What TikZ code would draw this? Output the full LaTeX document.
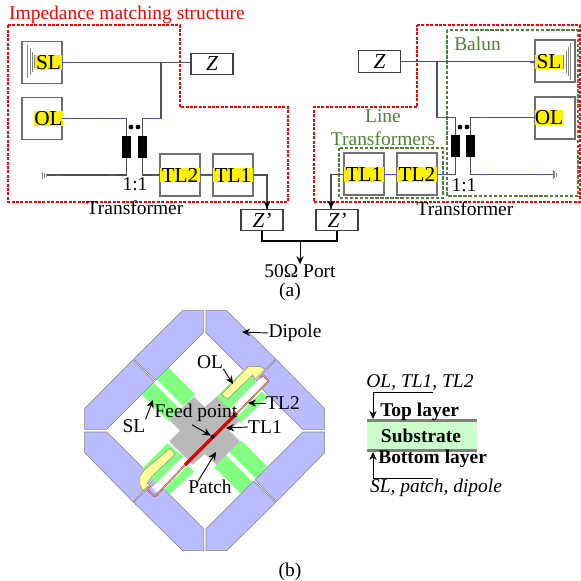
\documentclass[tikz,border=0pt]{standalone}
\usepackage{fontspec}
\setmainfont{Liberation Serif}
\usetikzlibrary{arrows.meta}
\definecolor{gline}{HTML}{4F8238}
\definecolor{wirec}{HTML}{505050}
\definecolor{dip}{HTML}{BBBBFF}
\definecolor{grn}{HTML}{80FF80}
\definecolor{yel}{HTML}{FFFF99}
\definecolor{pinkl}{HTML}{F09A9A}
\definecolor{boxc}{HTML}{707070}
\tikzset{
 lab/.style={font=\fontsize{14.6}{16}\selectfont,inner sep=0pt,text=black},
 grnlab/.style={lab,text=gline},
 redbox/.style={draw=red,line width=1.3pt,dash pattern=on 2.2pt off 1.1pt},
 grnbox/.style={draw=gline,line width=1.3pt,dash pattern=on 2.6pt off 1.2pt},
 outerbox/.style={draw=boxc,line width=.8pt,minimum width=30pt,minimum height=31.5pt,inner sep=0pt},
 ybox/.style={fill=yellow,inner sep=0pt,font=\fontsize{16}{16}\selectfont,minimum height=11pt},
 zbox/.style={draw=black!75,line width=.9pt,fill=white,minimum width=31.5pt,minimum height=16pt,inner sep=0pt,font=\fontsize{16}{16}\selectfont\itshape},
 coil/.style={fill=black,minimum width=6.4pt,minimum height=16.5pt,inner sep=0pt},
 wire/.style={draw=wirec,line width=.85pt},
 bluebit/.style={draw=blue!70!white,line width=.6pt},
 gnd/.style={draw=gray,line width=.7pt},
 arr/.style={draw=black,line width=.7pt,-{Stealth[length=6pt,width=5.5pt]}},
 dipole/.style={fill=dip,draw=gray,line width=.4pt},
 greenbar/.style={fill=grn,draw=none},
}
\begin{document}
\begin{tikzpicture}[x=.75pt,y=-.75pt]
\useasboundingbox[fill=white] (0,0) rectangle (581,581);
% ---- (a) boxes
\node[outerbox] (SLbL) at (42,62.5) {};
\node[ybox,minimum width=20pt] (SLL) at (48.5,62.5) {SL};
\node[outerbox] (OLbL) at (42,118.5) {};
\node[ybox,minimum width=20pt] (OLL) at (48.5,118.5) {OL};
\node[zbox] (ZL) at (212,64) {Z};
\node[outerbox] (TL2bL) at (180,175) {};
\node[ybox,minimum width=30pt] (TL2L) at (180,175) {TL2};
\node[outerbox] (TL1bL) at (233,175) {};
\node[ybox,minimum width=30pt] (TL1L) at (233,175) {TL1};
\node[coil] (c1L) at (126.5,147) {};
\node[coil] (c2L) at (142.5,147) {};
\node[circle,fill=black,inner sep=0pt,minimum size=3.6pt] (d1L) at (131,127) {};
\node[circle,fill=black,inner sep=0pt,minimum size=3.6pt] (d2L) at (138,127) {};
\node[zbox] (ZpL) at (262,220) {Z’};
\node[zbox] (ZpR) at (337,220) {Z’};
\node[zbox] (ZR) at (379.5,61.5) {Z};
\node[outerbox] (SLbR) at (555,61) {};
\node[ybox,minimum width=21pt] (SLR) at (549,62) {SL};
\node[outerbox] (OLbR) at (555,118) {};
\node[ybox,minimum width=21pt] (OLR) at (549,117.5) {OL};
\node[outerbox] (TL1bR) at (364,174) {};
\node[ybox,minimum width=30pt] (TL1R) at (364,174.5) {TL1};
\node[outerbox] (TL2bR) at (417,174) {};
\node[ybox,minimum width=30pt] (TL2R) at (417,174.5) {TL2};
\node[coil] (c1R) at (455.5,146) {};
\node[coil] (c2R) at (470.5,146) {};
\node[circle,fill=black,inner sep=0pt,minimum size=3.6pt] (d1R) at (460,127) {};
\node[circle,fill=black,inner sep=0pt,minimum size=3.6pt] (d2R) at (467,127) {};
\node[lab] (port) at (300,271) {50Ω Port};
% dashed
\draw[redbox] (8,25) -- (180,25) -- (180,107) -- (288,107) -- (288,202) -- (8,202) -- cycle;
\draw[redbox] (417,25) -- (580,25) -- (580,202) -- (314,202) -- (314,107) -- (417,107) -- cycle;
\draw[grnbox] (447,30) rectangle (578,196);
\draw[grnbox] (339,148) rectangle (443,198);
% wires left
\coordinate (j1L) at (161,62.5);
\coordinate (b1L) at (161,118.5);
\coordinate (g1L) at (46,175);
\draw[wire] (SLL.east) -- (ZL.west |- SLL.east);
\draw[wire] (j1L) -- (b1L) -| (c2L.north);
\draw[wire] (OLL.east) -| (c1L.north);
\draw[wire] (c1L.south) |- (g1L);
\draw[wire] (c2L.south) |- (TL2L.west);
\draw[wire] (TL2L.east) -- (TL1L.west);
\draw[wire] (TL1L.east) -| ([xshift=3.75pt]ZpL.north);
\draw[arr] ([xshift=3.75pt,yshift=6pt]ZpL.north) -- ([xshift=3.75pt]ZpL.north);
% wires right
\coordinate (j1R) at (437,62);
\coordinate (b1R) at (437,117.5);
\coordinate (g1R) at (553,174.5);
\draw[wire] (ZR.east) -- (SLR.west |- ZR.east);
\draw[wire] (j1R) -- (b1R) -| (c1R.north);
\draw[wire] (OLR.west) -| (c2R.north);
\draw[wire] (c2R.south) |- (g1R);
\draw[wire] (c1R.south) |- (TL2R.east);
\draw[wire] (TL2R.west) -- (TL1R.east);
\draw[wire] (TL1R.west) -| ([xshift=-4.5pt]ZpR.north);
\draw[arr] ([xshift=-4.5pt,yshift=6pt]ZpR.north) -- ([xshift=-4.5pt]ZpR.north);
% combiner
\coordinate (m) at (300,241);
\draw[wire,draw=black] (ZpL.south) |- (m);
\draw[wire,draw=black] (ZpR.south) |- (m);
\draw[arr] (m) -- (port.north);
% blue bits
\draw[bluebit] (62,62.5)--(68,62.5) (62,118.5)--(68,118.5) (109,118.5)--(115,118.5) (153,118.5)--(161,118.5)
 (55,175)--(62,175) (109,175)--(115,175) (153,175)--(160,175) (200,175)--(213,175)
 (530,62)--(535,62) (437,117.5)--(445,117.5) (482,117.5)--(488,117.5) (530,117.5)--(535,117.5)
 (437,174.5)--(445,174.5) (384,174.5)--(397,174.5) (482,174.5)--(488,174.5) (535,174.5)--(541,174.5);
% grounds
\draw[gnd] (27.7,45)--(27.7,78) (30,48)--(30,75) (32.3,52)--(32.3,72) (34.7,55)--(34.7,68)
 (42.7,171.5)--(42.7,179) (44.3,172.5)--(44.3,178) (46,173.5)--(46,177)
 (563.5,55)--(563.5,69) (566,51)--(566,73) (568.5,47)--(568.5,76) (570.5,43)--(570.5,80)
 (553,170)--(553,179) (554.5,171)--(554.5,178) (556,172.5)--(556,176.5);
% labels a
\node[lab,text=red] (t1) at (127,15) {Impedance matching structure};
\node[grnlab] (t2) at (477.5,44) {Balun};
\node[grnlab] (t3) at (383,116) {Line};
\node[grnlab] (t4) at (383,139) {Transformers};
\node[lab] (t5) at (135,184) {1:1};
\node[lab] (t6) at (464,185) {1:1};
\node[lab] (t7) at (135,208) {Transformer};
\node[lab] (t8) at (465,209) {Transformer};
\node[lab] (t9) at (290,292) {(a)};
\node[lab] (t10) at (290,572) {(b)};
% ---- (b) layout, zoom units
\begin{scope}[shift={(70,300)},x=.25pt,y=-.25pt]
 \begin{scope}[shift={(404,392)}]
 \foreach \sx in {1,-1}\foreach \sy in {1,-1}{
  \path[dipole] (\sx*4,\sy*-360)--(\sx*66,\sy*-360)--(\sx*213,\sy*-215)--(\sx*147,\sy*-151)--(\sx*4,\sy*-294)--cycle;
  \path[dipole] (\sx*360,\sy*-4)--(\sx*360,\sy*-66)--(\sx*215,\sy*-213)--(\sx*151,\sy*-147)--(\sx*294,\sy*-4)--cycle;
 }
 \end{scope}
 % green
 \path[greenbar] (340,318)--(375,283)--(295.5,203.5)--(260.5,238.5)--cycle;
 \path[greenbar] (330,328)--(295,363)--(215.5,283.5)--(250.5,248.5)--cycle;
 \path[greenbar] (468,466)--(433,501)--(512.5,580.5)--(547.5,545.5)--cycle;
 \path[greenbar] (478,456)--(513,421)--(592.5,500.5)--(557.5,535.5)--cycle;
 \path[greenbar] (440,290)--(522,208)--(562,248)--(478,328)--cycle;
 \path[greenbar] (498,354)--(575,275)--(595,290)--(512,368)--cycle;
 \path[greenbar] (218,505)--(292,430)--(340,470)--(258,552)--cycle;
 \path[greenbar] (282,568)--(352,497)--(372,515)--(300,582)--cycle;
 % slots
 \fill[white] (497,308)--(510,322)--(592,242)--(578,228)--cycle;
 \fill[white] (336,472)--(348,486)--(262,578)--(246,562)--cycle;
 % patch
 \path[fill=gray!55] (298,360)--(372,290)--(404,322)--(440,290)--(510,360)--(478,392)--(510,424)--(440,494)--(404,462)--(368,494)--(298,424)--(330,392)--cycle;
 % yellow
 \path[fill=yel,draw=gray,line width=.3pt] (455,283)--(535,200)--(572,200)--(585,208)--(555,238)--(548,225)--(472,298)--cycle;
 \path[fill=yel,draw=gray,line width=.3pt] (225,508)--(300,445)--(315,463)--(245,530)--(232,550)--(240,555)--(218,572)--(210,555)--(210,528)--cycle;
 % pink feed
 \draw[draw=brown!70!black,line width=1.25pt,line join=round] (500,340)--(596,243)--(580,226)--(570,234);
 \draw[draw=pinkl,line width=.6pt,line join=round] (500,340)--(596,243)--(580,226)--(570,234);
 \draw[draw=brown!70!black,line width=1.25pt,line join=round] (345,495)--(258,587)--(250,587)--(232,568)--(240,558);
 \draw[draw=pinkl,line width=.6pt,line join=round] (345,495)--(258,587)--(250,587)--(232,568)--(240,558);
 % red
 \draw[red!90!black,line width=2.6pt] (345,495)--(500,340);
 \node[circle,fill=black,inner sep=0pt,minimum size=3pt] (feed) at (428,410) {};
\end{scope}
% labels b
\node[lab] (Dip) at (295,333) {Dipole};
\coordinate (DipT) at (242,332);
\draw[arr] (Dip.west) -- (DipT);
\node[lab] (OLt) at (210,362) {OL};
\coordinate (OLp) at (233,384);
\draw[arr] (OLt.south east) -- (OLp);
\node[lab] (SLt) at (134,426) {SL};
\coordinate (SLp) at (153,400);
\draw[arr] (SLt.north east) -- (SLp);
\node[lab] (FPt) at (196,413) {Feed point};
\draw[arr] ([xshift=-3pt,yshift=-2pt]FPt.south) -- (feed);
\node[lab] (TL2t) at (283,403) {TL2};
\coordinate (TL2p) at (248,403);
\draw[arr] (TL2t.west) -- (TL2p);
\node[lab] (TL1t) at (265,427) {TL1};
\coordinate (TL1p) at (226,428);
\draw[arr] (TL1t.west) -- (TL1p);
\node[lab] (Pat) at (210,487) {Patch};
\coordinate (Patp) at (216,452);
\draw[arr] ([xshift=-9pt,yshift=-1pt]Pat.north) -- (Patp);
% layers
\node[fill=green!20!white,minimum width=82.5pt,minimum height=21.75pt,inner sep=0pt] (Sub) at (422,435.5) {};
\draw[draw=gray,line width=2.2pt] (Sub.north west)--(Sub.north east);
\draw[draw=gray,line width=2.2pt] (Sub.south west)--(Sub.south east);
\node[lab,font=\fontsize{14.6}{16}\selectfont\bfseries] (SubT) at (421,436) {Substrate};
\node[lab,font=\fontsize{14.6}{16}\selectfont\bfseries,anchor=west] (Top) at (380,412) {Top layer};
\node[lab,font=\fontsize{14.6}{16}\selectfont\bfseries,anchor=west] (Bot) at (378,459) {Bottom layer};
\node[lab,font=\fontsize{14.6}{16}\selectfont\itshape] (TopL) at (420,383) {OL, TL1, TL2};
\node[lab,font=\fontsize{14.6}{16}\selectfont\itshape] (BotL) at (436,488) {SL, patch, dipole};
\coordinate (tc) at (433,392);
\coordinate (bc) at (433,478);
\draw[arr] (tc) -- (373,392) -- (373,419);
\draw[arr] (bc) -- (373,478) -- (373,452);
\end{tikzpicture}
\end{document}
